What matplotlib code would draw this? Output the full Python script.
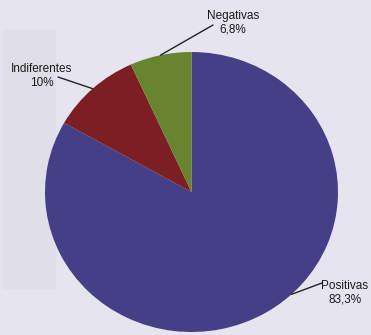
import numpy as np
import matplotlib.pyplot as plt
from matplotlib.patches import Rectangle

# Opiniões: fatias em sentido horário a partir do topo
categorias = ['Positivas', 'Indiferentes', 'Negativas']
valores = [83.3, 10.0, 6.8]
rotulos = ['83,3%', '10%', '6,8%']
cores = ['#453f88', '#7b1f22', '#67842f']

# ângulo (graus) onde sai a linha de cada rótulo; None = meio da fatia
angulo_linha = [-47, None, None]
# posição do texto e fim da linha, em pixels da figura
pos_texto = [(345, 42), (42, 259), (233, 312)]
fim_linha = [(322, 52), (58, 258), (213, 310)]

plt.rcParams['font.family'] = ['Liberation Sans', 'DejaVu Sans']

fig = plt.figure(figsize=(3.71, 3.35), dpi=100)
fig.patch.set_facecolor('#e6e4ee')

# faixa clara ao fundo, à esquerda
fundo = fig.add_axes([0, 0, 1, 1], zorder=0)
fundo.add_patch(Rectangle((3 / 371, 47 / 335), 52 / 371, 258 / 335,
                          color='#e0dfe7'))
fundo.axis('off')

ax = fig.add_axes([45 / 371, 3 / 335, 293 / 371, 280 / 335], zorder=1)
wedges, _ = ax.pie(valores, colors=cores, startangle=90, counterclock=False,
                   wedgeprops=dict(linewidth=0))
ax.set_aspect('auto')
ax.set_xlim(-1, 1)
ax.set_ylim(-1, 1)
ax.axis('off')

for w, cat, rot, ang, pt, fl in zip(wedges, categorias, rotulos,
                                     angulo_linha, pos_texto, fim_linha):
    if ang is None:
        ang = (w.theta1 + w.theta2) / 2
    a = np.deg2rad(ang)
    borda = (np.cos(a), np.sin(a))
    ax.annotate('', xy=borda, xycoords='data',
                xytext=fl, textcoords='figure pixels',
                arrowprops=dict(arrowstyle='-', color='#222222', lw=1.0,
                                shrinkA=0, shrinkB=0),
                annotation_clip=False)
    fig.text(pt[0] / 371, pt[1] / 335, f'{cat}\n{rot}', ha='center',
             va='center', fontsize=8.5, color='#1a1a1a', linespacing=1.15)

fig.savefig('out.png', dpi=100, facecolor=fig.get_facecolor())
